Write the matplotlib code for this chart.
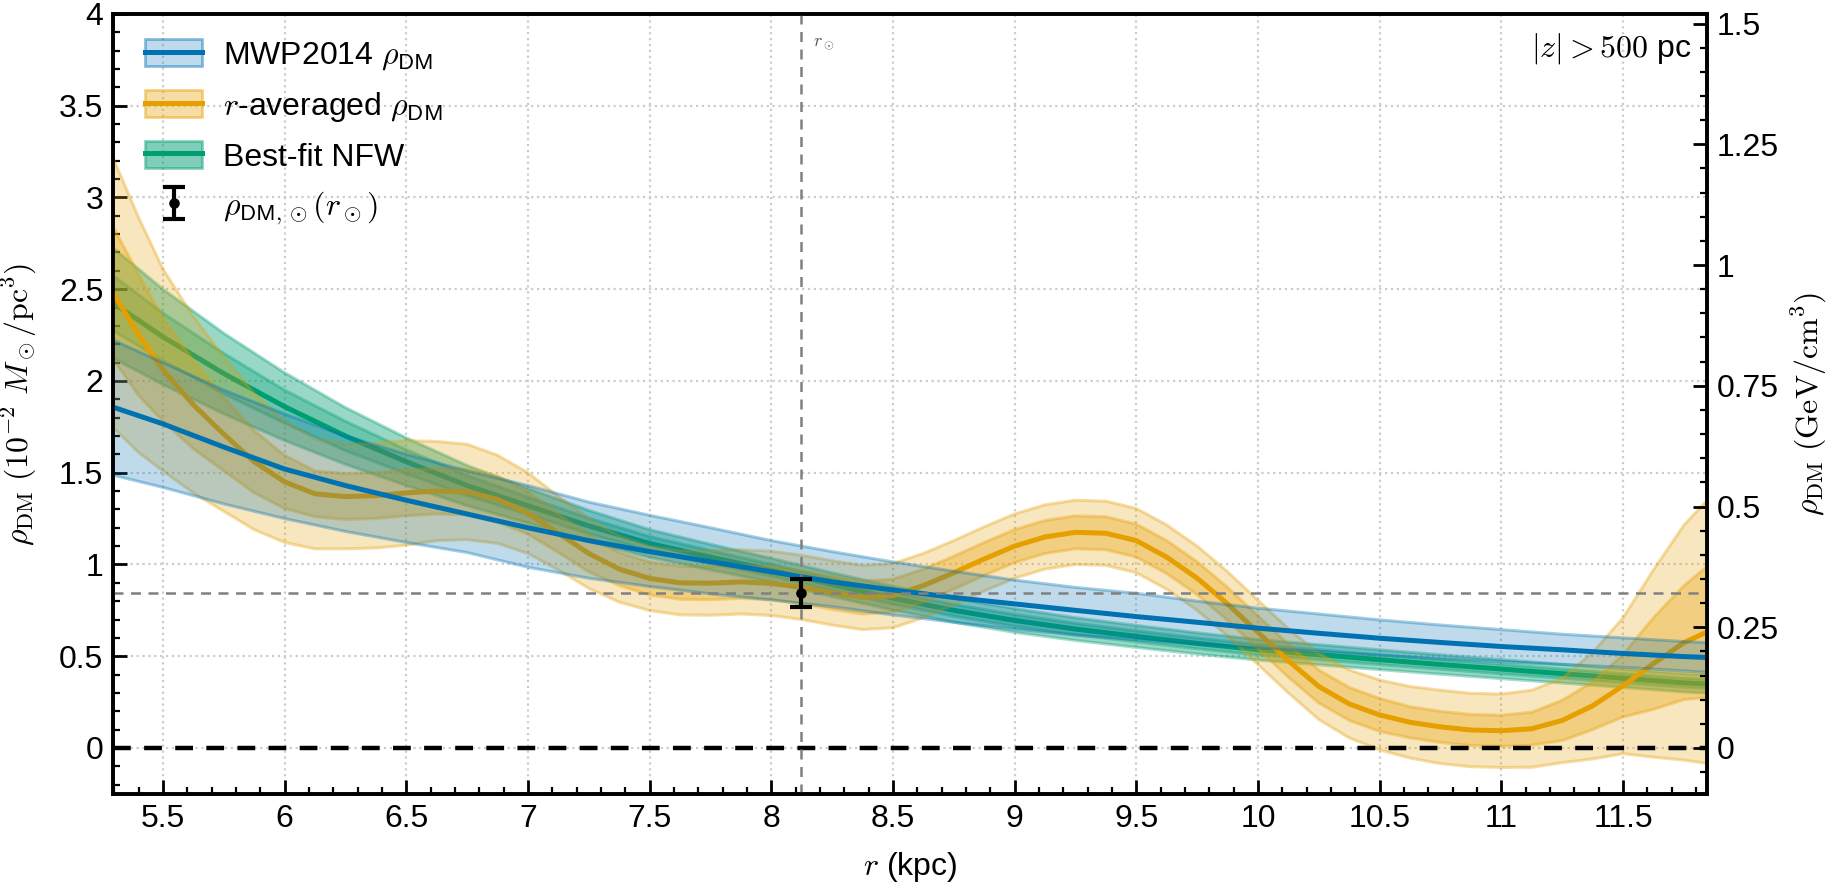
import matplotlib
matplotlib.use("Agg")
import matplotlib.pyplot as plt
from matplotlib.colors import to_rgba
from matplotlib.lines import Line2D
from matplotlib.patches import Patch
from matplotlib.ticker import MultipleLocator, FormatStrFormatter

# radius grid (kpc) for the smooth model curves
R = [5.3, 5.5, 5.75, 6.0, 6.25, 6.5, 6.75, 7.0, 7.25, 7.5, 7.75, 8.0, 8.25, 8.5,
     8.75, 9.0, 9.25, 9.5, 9.75, 10.0, 10.25, 10.5, 10.75, 11.0, 11.25, 11.5, 11.75, 11.85]

# MWP2014 rho_DM (1e-2 Msun/pc^3)
MWP_MID = [1.855, 1.766, 1.64, 1.52, 1.43, 1.35, 1.275, 1.20, 1.13, 1.07, 1.015, 0.96, 0.905, 0.861,
           0.82, 0.785, 0.75, 0.716, 0.685, 0.653, 0.625, 0.598, 0.575, 0.553, 0.535, 0.515, 0.498, 0.493]
MWP_HI = [2.22, 2.10, 1.95, 1.82, 1.70, 1.60, 1.51, 1.43, 1.34, 1.268, 1.20, 1.13, 1.07, 1.014,
          0.963, 0.915, 0.875, 0.843, 0.80, 0.762, 0.73, 0.698, 0.67, 0.645, 0.62, 0.60, 0.58, 0.574]
MWP_LO = [1.485, 1.42, 1.33, 1.25, 1.18, 1.12, 1.065, 0.985, 0.925, 0.88, 0.84, 0.807, 0.77, 0.725,
          0.685, 0.648, 0.615, 0.59, 0.565, 0.545, 0.525, 0.505, 0.485, 0.47, 0.455, 0.44, 0.42, 0.411]

# best-fit NFW
NFW_MID = [2.42, 2.24, 2.04, 1.86, 1.70, 1.56, 1.43, 1.32, 1.21, 1.114, 1.04, 0.969, 0.89, 0.816,
           0.75, 0.695, 0.648, 0.608, 0.57, 0.535, 0.508, 0.481, 0.455, 0.43, 0.405, 0.38, 0.355, 0.348]
NFW_HI1 = [2.57, 2.37, 2.15, 1.95, 1.78, 1.625, 1.485, 1.367, 1.252, 1.152, 1.075, 1.001, 0.922, 0.848,
           0.782, 0.727, 0.679, 0.638, 0.599, 0.563, 0.535, 0.508, 0.481, 0.456, 0.43, 0.405, 0.38, 0.373]
NFW_LO1 = [2.27, 2.11, 1.93, 1.77, 1.62, 1.495, 1.375, 1.273, 1.167, 1.076, 1.005, 0.937, 0.858, 0.784,
           0.718, 0.663, 0.617, 0.578, 0.541, 0.507, 0.481, 0.454, 0.429, 0.404, 0.38, 0.355, 0.33, 0.323]
NFW_HI2 = [2.72, 2.50, 2.26, 2.045, 1.855, 1.69, 1.54, 1.415, 1.295, 1.19, 1.11, 1.034, 0.955, 0.881,
           0.815, 0.76, 0.71, 0.668, 0.628, 0.591, 0.563, 0.535, 0.508, 0.482, 0.456, 0.43, 0.405, 0.398]
NFW_LO2 = [2.12, 1.98, 1.82, 1.675, 1.545, 1.43, 1.32, 1.225, 1.125, 1.039, 0.97, 0.904, 0.825, 0.751,
           0.685, 0.63, 0.586, 0.548, 0.512, 0.479, 0.453, 0.427, 0.402, 0.378, 0.354, 0.33, 0.305, 0.298]

# finer grid for the wiggly r-averaged profile
R_AVG = [5.3, 5.4, 5.5, 5.625, 5.75, 5.875, 6.0, 6.125, 6.25, 6.375, 6.5, 6.625, 6.75, 6.875,
         7.0, 7.125, 7.25, 7.375, 7.5, 7.625, 7.75, 7.875, 8.0, 8.125, 8.25, 8.375, 8.5, 8.625,
         8.75, 8.875, 9.0, 9.125, 9.25, 9.375, 9.5, 9.625, 9.75, 9.875, 10.0, 10.125, 10.25, 10.375,
         10.5, 10.625, 10.75, 10.875, 11.0, 11.125, 11.25, 11.375, 11.5, 11.625, 11.75, 11.85]
AVG_MID = [2.47, 2.25, 2.06, 1.87, 1.71, 1.56, 1.45, 1.385, 1.37, 1.375, 1.39, 1.40, 1.395, 1.355,
           1.28, 1.17, 1.06, 0.975, 0.924, 0.90, 0.898, 0.905, 0.897, 0.875, 0.845, 0.82, 0.83, 0.885,
           0.955, 1.03, 1.10, 1.15, 1.175, 1.17, 1.13, 1.04, 0.925, 0.785, 0.63, 0.475, 0.335, 0.24,
           0.18, 0.14, 0.115, 0.098, 0.094, 0.105, 0.15, 0.23, 0.339, 0.46, 0.574, 0.635]
AVG_HI1 = [2.83, 2.58, 2.34, 2.11, 1.91, 1.73, 1.595, 1.51, 1.495, 1.50, 1.515, 1.525, 1.52, 1.48,
           1.395, 1.275, 1.16, 1.065, 1.014, 0.99, 0.988, 0.995, 0.987, 0.965, 0.935, 0.91, 0.92, 0.975,
           1.045, 1.12, 1.19, 1.24, 1.265, 1.26, 1.22, 1.13, 1.015, 0.875, 0.72, 0.565, 0.425, 0.33,
           0.27, 0.225, 0.20, 0.183, 0.179, 0.195, 0.26, 0.36, 0.509, 0.71, 0.884, 0.995]
AVG_LO1 = [2.11, 1.92, 1.78, 1.63, 1.51, 1.39, 1.305, 1.26, 1.245, 1.25, 1.265, 1.275, 1.27, 1.23,
           1.165, 1.065, 0.96, 0.885, 0.834, 0.81, 0.808, 0.815, 0.807, 0.785, 0.755, 0.73, 0.74, 0.795,
           0.865, 0.94, 1.01, 1.06, 1.085, 1.08, 1.04, 0.95, 0.835, 0.695, 0.54, 0.385, 0.245, 0.15,
           0.09, 0.055, 0.03, 0.013, 0.009, 0.015, 0.04, 0.10, 0.169, 0.21, 0.264, 0.275]
AVG_HI2 = [3.20, 2.89, 2.61, 2.35, 2.13, 1.93, 1.78, 1.685, 1.655, 1.66, 1.675, 1.67, 1.655, 1.595,
           1.50, 1.37, 1.25, 1.155, 1.099, 1.075, 1.073, 1.08, 1.072, 1.05, 1.02, 0.995, 1.005, 1.06,
           1.13, 1.205, 1.275, 1.325, 1.35, 1.345, 1.305, 1.215, 1.10, 0.96, 0.805, 0.65, 0.515, 0.425,
           0.37, 0.335, 0.315, 0.298, 0.294, 0.315, 0.38, 0.52, 0.709, 0.97, 1.214, 1.355]
AVG_LO2 = [1.74, 1.61, 1.51, 1.39, 1.29, 1.19, 1.12, 1.085, 1.085, 1.09, 1.105, 1.13, 1.135, 1.115,
           1.06, 0.97, 0.87, 0.795, 0.749, 0.725, 0.723, 0.73, 0.722, 0.70, 0.67, 0.645, 0.655, 0.71,
           0.78, 0.855, 0.925, 0.975, 1.0, 0.995, 0.955, 0.865, 0.75, 0.61, 0.455, 0.30, 0.155, 0.055,
           -0.01, -0.055, -0.085, -0.102, -0.106, -0.105, -0.08, -0.06, -0.031, -0.05, -0.066, -0.085]

R_SUN = 8.122
RHO_SUN = 0.844
RHO_SUN_ERR = 0.077
GEV_PER_UNIT = 0.38  # 1e-2 Msun/pc^3 -> GeV/cm^3

BLUE = "#0072B2"
ORANGE = "#E69F00"
GREEN = "#009E73"

plt.rcParams["font.family"] = ["Liberation Sans", "DejaVu Sans"]
plt.rcParams["mathtext.fontset"] = "cm"
plt.rcParams["font.size"] = 11.5
plt.rcParams["axes.linewidth"] = 1.3


def band(ax, x, lo, hi, color, alpha, z):
    ax.fill_between(x, lo, hi, facecolor=color, alpha=alpha, lw=0, zorder=z)
    for edge in (lo, hi):
        ax.plot(x, edge, color=color, alpha=0.35, lw=1.1, zorder=z)


fig = plt.figure(figsize=(9.205, 4.445), dpi=200)
ax = fig.add_axes([0.0614, 0.107, 0.8658, 0.8774])

# NFW
band(ax, R, NFW_LO2, NFW_HI2, GREEN, 0.40, 2)
band(ax, R, NFW_LO1, NFW_HI1, GREEN, 0.30, 2)
ax.plot(R, NFW_MID, color=GREEN, lw=1.8, zorder=2)

# r-averaged
band(ax, R_AVG, AVG_LO2, AVG_HI2, ORANGE, 0.25, 3)
band(ax, R_AVG, AVG_LO1, AVG_HI1, ORANGE, 0.33, 3)
ax.plot(R_AVG, AVG_MID, color=ORANGE, lw=1.8, zorder=3)

# MWP2014
band(ax, R, MWP_LO, MWP_HI, BLUE, 0.25, 4)
ax.plot(R, MWP_MID, color=BLUE, lw=1.8, zorder=4)

ax.axhline(0, color="black", ls=(0, (4, 3)), lw=1.6, zorder=5)
ax.axhline(RHO_SUN, color="gray", ls=(0, (4, 3)), lw=0.9, zorder=5)
ax.axvline(R_SUN, color="gray", ls=(0, (4, 3)), lw=0.9, zorder=5)
eb = ax.errorbar([R_SUN], [RHO_SUN], yerr=[RHO_SUN_ERR], fmt="o", color="black",
                 ms=2.8, lw=1.5, capsize=3.8, capthick=1.5, zorder=6)

ax.text(R_SUN + 0.05, 3.84, r"$r_\odot$", fontsize=6.5, color="#555555", va="center", ha="left")
ax.text(0.99, 0.955, r"$|z| > 500$ pc", transform=ax.transAxes, ha="right", va="center", fontsize=11.5)

ax.set_xlim(5.295, 11.845)
ax.set_ylim(-0.25, 4)
ax.xaxis.set_major_locator(MultipleLocator(0.5))
ax.xaxis.set_minor_locator(MultipleLocator(0.1))
ax.yaxis.set_major_locator(MultipleLocator(0.5))
ax.yaxis.set_minor_locator(MultipleLocator(0.1))
ax.xaxis.set_major_formatter(FormatStrFormatter("%g"))
ax.yaxis.set_major_formatter(FormatStrFormatter("%g"))
ax.tick_params(which="both", direction="in", top=False, right=False)
ax.tick_params(which="major", length=5, width=1.0, labelsize=11.5)
ax.tick_params(which="minor", length=2.5, width=0.8)
ax.grid(True, which="major", ls=":", color="#cccccc", lw=0.8, zorder=0)
ax.set_axisbelow(True)

ax.set_xlabel(r"$r$ (kpc)", fontsize=11.5, labelpad=6)
ax.set_ylabel(r"$\rho_{\rm DM}\ (10^{-2}\ M_\odot/{\rm pc}^3)$", fontsize=11.5, labelpad=7)

ax2 = ax.twinx()
ax2.set_ylim(-0.25 * GEV_PER_UNIT, 4 * GEV_PER_UNIT)
ax2.yaxis.set_major_locator(MultipleLocator(0.25))
ax2.yaxis.set_minor_locator(MultipleLocator(0.05))
ax2.yaxis.set_major_formatter(FormatStrFormatter("%g"))
ax2.tick_params(which="both", direction="in")
ax2.tick_params(which="major", length=5, width=1.0, labelsize=11.5)
ax2.tick_params(which="minor", length=2.5, width=0.8)
ax2.set_ylabel(r"$\rho_{\rm DM}\ ({\rm GeV/cm}^3)$", fontsize=11.5)


def handle(color, alpha):
    return (Patch(facecolor=to_rgba(color, alpha), edgecolor=to_rgba(color, 0.45), lw=1.0),
            Line2D([], [], color=color, lw=1.8))


handles = [handle(BLUE, 0.25), handle(ORANGE, 0.35), handle(GREEN, 0.5), eb]
labels = [r"MWP2014 $\rho_\mathsf{DM}$", r"$r$-averaged $\rho_\mathsf{DM}$",
          r"Best-fit NFW", r"$\rho_{\mathsf{DM},\odot}(r_\odot)$"]
ax.legend(handles, labels, loc="upper left", bbox_to_anchor=(0.004, 1.0), frameon=False,
          fontsize=11.5, handlelength=1.8, handleheight=0.9, labelspacing=0.55,
          borderaxespad=0.4, handletextpad=0.65)

fig.savefig("out.png", dpi=200)
